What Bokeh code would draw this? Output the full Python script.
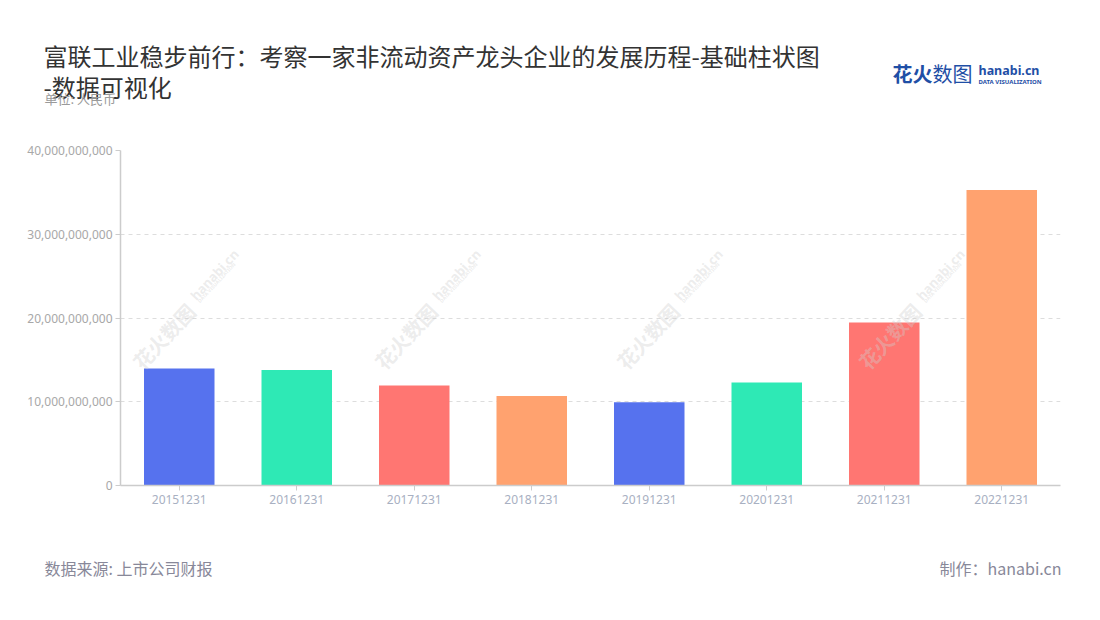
import math
from bokeh.plotting import figure
from bokeh.models import ColumnDataSource, FactorRange, NumeralTickFormatter, Label, FixedTicker, Range1d
from bokeh.layouts import column, row
from bokeh.embed import file_html
from bokeh.resources import INLINE

categories = ["20151231", "20161231", "20171231", "20181231",
              "20191231", "20201231", "20211231", "20221231"]
values = [13.97e9, 13.8e9, 11.94e9, 10.7e9, 9.95e9, 12.3e9, 19.46e9, 35.27e9]
colors = ["#5672ee", "#2ee9b5", "#ff7672", "#ffa26f",
          "#5672ee", "#2ee9b5", "#ff7672", "#ffa26f"]
y_ticks = [0, 10e9, 20e9, 30e9, 40e9]

title_line1 = "富联工业稳步前行：考察一家非流动资产龙头企业的发展历程-基础柱状图"
title_line2 = "-数据可视化"
unit_text = "单位: 人民币"
source_text = "数据来源: 上市公司财报"
maker_text = "制作：hanabi.cn"
logo_cn_a = "花火"
logo_cn_b = "数图"
logo_en = "hanabi.cn"
logo_sub = "DATA VISUALIZATION"

CJK = "Noto Sans CJK SC"
W = 1100
HEAD_H, MAIN_H, FOOT_H = 140, 390, 90
FRAME_L, FRAME_B = 120, 485   # page position of main plot frame (left, bottom)

# watermark tiles fully inside the plot area (page coords of each tile's start)
wm_cols = [136, 378, 620, 862]
wm_rows = [365]
WM_ANG = 47.0


def blank_panel(y0, y1):
    f = figure(width=W, height=y1 - y0, x_range=Range1d(0, W), y_range=Range1d(y1, y0),
               output_backend="svg", toolbar_location=None,
               x_axis_location=None, y_axis_location=None,
               min_border=0, min_border_left=0, min_border_right=0,
               min_border_top=0, min_border_bottom=0)
    f.grid.visible = False
    f.outline_line_color = None
    f.background_fill_color = "white"
    f.border_fill_color = "white"
    return f


def add_text(f, text, x, y, size, color, align="left", font=CJK, style="normal",
             base="middle", angle=0.0, alpha=1.0, screen=False):
    kw = dict(x_units="screen", y_units="screen") if screen else {}
    f.add_layout(Label(x=x, y=y, text=text, text_font=font, text_font_size=size,
                       text_color=color, text_align=align, text_baseline=base,
                       text_font_style=style, angle=angle, angle_units="deg",
                       text_alpha=alpha, **kw))


def add_watermarks(f):
    a = math.radians(WM_ANG)
    ux, uy = math.cos(a), -math.sin(a)     # reading direction (page coords, y down)
    nx, ny = math.sin(a), math.cos(a)      # text "down" direction
    col, alp = "#cfcfcf", 0.4

    def conv(px, py):
        return px - FRAME_L, FRAME_B - py

    for x0 in wm_cols:
        for y0 in wm_rows:
            x, y = conv(x0, y0)
            add_text(f, "花火数图", x, y, "20px", col, style="bold",
                     base="alphabetic", angle=WM_ANG, alpha=alp, screen=True)
            hx, hy = conv(x0 + 88 * ux - 5 * nx, y0 + 88 * uy - 5 * ny)
            add_text(f, "hanabi.cn", hx, hy, "13px", col, font="Noto Sans", style="bold",
                     base="alphabetic", angle=WM_ANG, alpha=alp, screen=True)
            dx, dy = conv(x0 + 89 * ux - 1 * nx, y0 + 89 * uy - 1 * ny)
            add_text(f, "DATA VISUALIZATION", dx, dy, "5px", col, font="Noto Sans", style="bold",
                     base="top", angle=WM_ANG, alpha=alp, screen=True)


# ---------- header ----------
head = blank_panel(0, HEAD_H)
add_text(head, title_line1, 43, 55, "24px", "#333333")
add_text(head, title_line2, 43, 86, "24px", "#333333")
add_text(head, unit_text, 44, 98, "13px", "#9a9a9a")
add_text(head, logo_cn_a, 892, 73, "20px", "#1f4fa6", style="bold")
add_text(head, logo_cn_b, 932, 73, "20px", "#1f4fa6")
add_text(head, logo_en, 978, 70, "12.5px", "#1f4fa6", font="Noto Sans", style="bold")
add_text(head, logo_sub, 978, 81, "6px", "#1f4fa6", font="Noto Sans", style="bold")

# ---------- main chart ----------
p = figure(width=W, height=MAIN_H, x_range=FactorRange(*categories, range_padding=0),
           y_range=Range1d(0, 40e9), output_backend="svg", toolbar_location=None,
           min_border_left=120, min_border_right=40, min_border_top=10, min_border_bottom=45)
p.outline_line_color = None
p.background_fill_color = "white"
p.border_fill_color = "white"

src = ColumnDataSource(dict(cat=categories, val=values, color=colors))
p.vbar(x="cat", top="val", width=0.6, color="color", source=src, line_color=None)

p.xgrid.grid_line_color = None
p.ygrid.grid_line_color = "#dddddd"
p.ygrid.grid_line_dash = "4 4"

p.yaxis.ticker = FixedTicker(ticks=y_ticks)
p.yaxis.formatter = NumeralTickFormatter(format="0,0")
p.yaxis.axis_line_color = "#cccccc"
p.yaxis.axis_line_width = 1.5
p.yaxis.major_tick_line_color = "#cccccc"
p.yaxis.major_tick_in = 0
p.yaxis.major_tick_out = 5
p.yaxis.minor_tick_line_color = None
p.yaxis.major_label_text_color = "#a8a8a8"
p.yaxis.major_label_text_font = "Noto Sans"
p.yaxis.major_label_text_font_size = "12px"
p.yaxis.major_label_standoff = 3

p.xaxis.axis_line_color = "#cccccc"
p.xaxis.axis_line_width = 1.5
p.xaxis.major_tick_line_color = "#cccccc"
p.xaxis.major_tick_in = 0
p.xaxis.major_tick_out = 5
p.xaxis.minor_tick_line_color = None
p.xaxis.major_label_text_color = "#a8b0c2"
p.xaxis.major_label_text_font = "Noto Sans"
p.xaxis.major_label_text_font_size = "12px"
p.xaxis.major_label_standoff = 4

add_watermarks(p)

# ---------- footer ----------
foot = blank_panel(HEAD_H + MAIN_H, HEAD_H + MAIN_H + FOOT_H)
add_text(foot, source_text, 44, 567, "16px", "#888899")
add_text(foot, maker_text, 1061, 567, "16px", "#888899", align="right")

layout = column(row(head), p, row(foot), spacing=0)
open("out.html", "w").write(file_html(layout, INLINE))
